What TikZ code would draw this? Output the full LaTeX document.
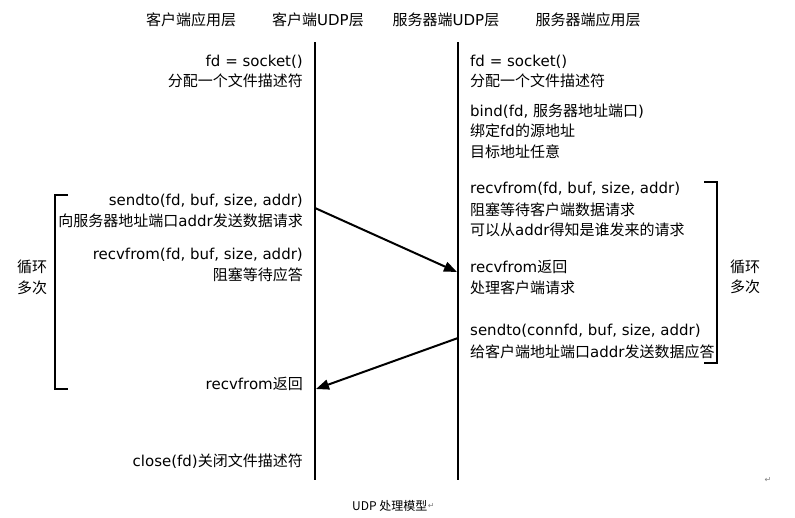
\documentclass[tikz,border=0pt]{standalone}
\usepackage{fontspec}
\setmainfont{DejaVu Sans}
\newfontfamily\cjkfont{Noto Sans CJK SC}
\newcommand\zh[1]{{\cjkfont #1}}
\newfontfamily\symfont{DejaVu Sans}
\usetikzlibrary{arrows.meta}
\begin{document}
\begin{tikzpicture}[x=1pt,y=-1pt,
  txt/.style={inner sep=0pt, font=\fontsize{15}{17}\selectfont, text height=11pt, text depth=3pt},
  hd/.style={txt, anchor=center},
  lt/.style={txt, anchor=east},
  rt/.style={txt, anchor=west},
  life/.style={line width=2.4pt},
  msg/.style={line width=2pt, -{Triangle[length=13pt,width=10pt]}},
  brk/.style={line width=2.4pt},
  retmark/.style={inner sep=0pt, text=gray, font=\symfont\fontsize{8}{9}\selectfont}]
\useasboundingbox (0,0) rectangle (795,517);
\fill[white] (0,0) rectangle (795,517);
% headers
\node[hd] (h1) at (191,21) {\zh{客户端应用层}};
\node[hd] (h2) at (318,21) {\zh{客户端}UDP\zh{层}};
\node[hd] (h3) at (446,21) {\zh{服务器端}UDP\zh{层}};
\node[hd] (h4) at (588,21) {\zh{服务器端应用层}};
% lifelines
\coordinate (c1t) at (315,42);
\coordinate (c1b) at (315,480);
\coordinate (c2t) at (458,42);
\coordinate (c2b) at (458,480);
\draw[life] (c1t) -- (c1b);
\draw[life] (c2t) -- (c2b);
% left texts
\node[lt] (l1) at (303,62) {fd = socket()};
\node[lt] (l2) at (303,82) {\zh{分配一个文件描述符}};
\node[lt] (l3) at (303,201) {sendto(fd, buf, size, addr)};
\node[lt] (l4) at (303,222) {\zh{向服务器地址端口}addr\zh{发送数据请求}};
\node[lt] (l5) at (303,255) {recvfrom(fd, buf, size, addr)};
\node[lt] (l6) at (303,276) {\zh{阻塞等待应答}};
\node[lt] (l7) at (303,385) {recvfrom\zh{返回}};
\node[lt] (l8) at (303,462) {close(fd)\zh{关闭文件描述符}};
% right texts
\node[rt] (r1) at (470,62) {fd = socket()};
\node[rt] (r2) at (470,82) {\zh{分配一个文件描述符}};
\node[rt] (r3) at (470,112) {bind(fd, \zh{服务器地址端口})};
\node[rt] (r4) at (470,132) {\zh{绑定}fd\zh{的源地址}};
\node[rt] (r5) at (470,153) {\zh{目标地址任意}};
\node[rt] (r6) at (470,189) {recvfrom(fd, buf, size, addr)};
\node[rt] (r7) at (470,211) {\zh{阻塞等待客户端数据请求}};
\node[rt] (r8) at (470,231) {\zh{可以从}addr\zh{得知是谁发来的请求}};
\node[rt] (r9) at (470,268) {recvfrom\zh{返回}};
\node[rt] (r10) at (470,289) {\zh{处理客户端请求}};
\node[rt] (r11) at (470,331) {sendto(connfd, buf, size, addr)};
\node[rt] (r12) at (470,353) {\zh{给客户端地址端口}addr\zh{发送数据应答}};
% messages
\coordinate (a1s) at (315,208);
\coordinate (a1e) at (457,272);
\coordinate (a2s) at (458,338);
\coordinate (a2e) at (316,389);
\draw[msg] (a1s) -- (a1e);
\draw[msg] (a2s) -- (a2e);
% left bracket
\coordinate (lb1) at (68,195);
\coordinate (lb2) at (55,195);
\coordinate (lb3) at (55,389);
\coordinate (lb4) at (68,389);
\draw[brk] (lb1) -- (lb2) -- (lb3) -- (lb4);
\node[hd] (lc1) at (32,268) {\zh{循环}};
\node[hd] (lc2) at (32,289) {\zh{多次}};
% right bracket
\coordinate (rb1) at (704,182);
\coordinate (rb2) at (717,182);
\coordinate (rb3) at (717,363);
\coordinate (rb4) at (704,363);
\draw[brk] (rb1) -- (rb2) -- (rb3) -- (rb4);
\node[hd] (rc1) at (745,268) {\zh{循环}};
\node[hd] (rc2) at (745,288) {\zh{多次}};
% caption and marks
\node[inner sep=0pt, anchor=west, font=\cjkfont\fontsize{12}{14}\selectfont] (cap) at (352,506) {UDP 处理模型};
\node[retmark, anchor=west] (m1) at (cap.east) {↵};
\node[retmark] (m2) at (768,480) {↵};
\end{tikzpicture}
\end{document}
